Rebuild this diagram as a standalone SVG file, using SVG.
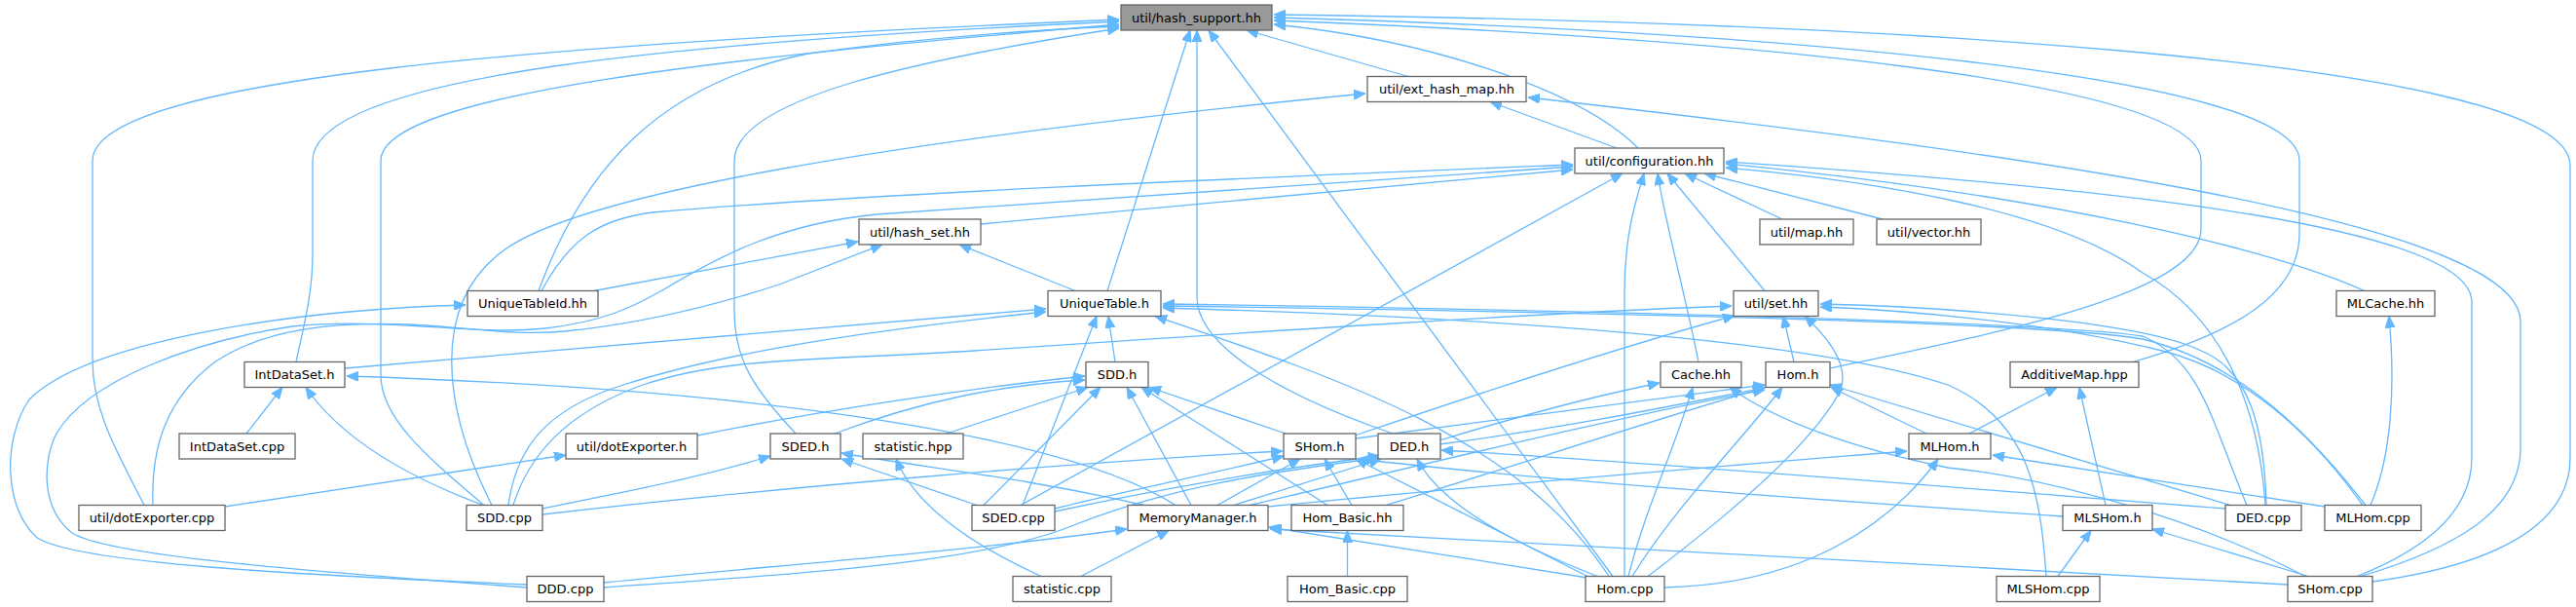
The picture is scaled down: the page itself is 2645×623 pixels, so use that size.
<svg xmlns="http://www.w3.org/2000/svg" width="2645" height="623" viewBox="0 0 2645 623">
<defs>
<style>
.n rect{fill:#ffffff;stroke:#666666;stroke-width:1.3}
.n.root rect{fill:#999999}
.n text{font-family:"DejaVu Sans","Liberation Sans",sans-serif;font-size:13px;text-anchor:middle;fill:#000000}
.e path{fill:none;stroke:#63b8ff;stroke-width:1.3;marker-end:url(#a)}
</style>
<marker id="a" viewBox="0 0 12 10" refX="12" refY="5" markerWidth="12" markerHeight="10" markerUnits="userSpaceOnUse" orient="auto"><path d="M0,0 L12,5 L0,10 z" fill="#63b8ff" stroke="#63b8ff"/></marker>
</defs>
<rect width="2645" height="623" fill="#ffffff"/>
<g id="edges" class="e">
<path d="M148,518.5 C118,460 95,420 95,370 L95,165 C95,80 560,45 1149,20"/>
<path d="M304,371.5 C313,330 321,300 321,260 L321,165 C321,75 720,42 1149,22"/>
<path d="M497,518.5 C440,470 391,430 391,385 L391,165 C391,95 760,58 1149,25"/>
<path d="M553,298.5 C600,170 680,85 830,55 C950,38 1080,30 1149,27"/>
<path d="M817,445 C775,400 754,370 754,320 L754,165 C754,100 950,60 1149,29"/>
<path d="M1137,298.5 L1222,31"/>
<path d="M1430,445 C1300,400 1229,350 1229,305 L1229,31"/>
<path d="M1656,591.5 L1241,31"/>
<path d="M1446,78.5 L1280,31"/>
<path d="M1682,152 C1620,90 1460,40 1308,25"/>
<path d="M2436,597 C2560,580 2639,540 2639,470 L2639,170 C2639,55 1850,22 1308,15"/>
<path d="M1879,378 C2060,340 2260,300 2260,235 L2260,165 C2260,80 1750,38 1308,21"/>
<path d="M2190,371.5 C2300,340 2361,300 2361,240 L2361,165 C2361,75 1800,32 1308,18"/>
<path d="M1660,152 L1530,104.5"/>
<path d="M505,518.5 C455,420 440,310 520,255 C600,200 900,145 1402,96"/>
<path d="M2424,591.5 C2530,560 2588,520 2588,460 L2588,330 C2588,230 2100,160 1569,100"/>
<path d="M556,298.5 C585,245 615,225 670,218 C900,198 1300,182 1615,169"/>
<path d="M1007,230 L1615,174"/>
<path d="M541,603 C300,585 110,570 74,547 C40,520 45,470 58,445 C90,390 200,350 300,335 C400,325 480,345 560,337 C620,330 650,315 680,298 C740,262 800,230 900,220 L1615,171"/>
<path d="M1048,518.5 L1666,178"/>
<path d="M1668,591.5 L1668,300 C1668,240 1680,205 1688,178"/>
<path d="M1744,371.5 C1730,300 1710,230 1702,178"/>
<path d="M1812,298.5 L1712,178"/>
<path d="M1830,225 L1730,178"/>
<path d="M1933,225 L1750,178"/>
<path d="M2428,298.5 C2330,255 2100,200 1772,168"/>
<path d="M2420,591.5 C2500,560 2538,520 2538,470 L2538,310 C2538,235 2200,195 1772,166"/>
<path d="M2326,518.5 C2320,430 2290,330 2200,280 C2110,215 1920,185 1772,172"/>
<path d="M610,298.5 L881,248"/>
<path d="M157,518.5 C155,460 170,410 220,372 C270,338 340,330 420,333 C480,336 530,345 580,340 C650,333 720,318 800,292 L906,251"/>
<path d="M1104,298.5 L985,251"/>
<path d="M541,600 C300,590 80,578 38,552 C3,520 3,450 30,410 C90,350 300,318 478,313"/>
<path d="M1145,371.5 L1138,324.5"/>
<path d="M1050,518.5 L1126,324.5"/>
<path d="M354,378 L1074,317"/>
<path d="M522,518.5 C530,460 560,420 640,395 C750,360 900,338 1074,320"/>
<path d="M1652,591.5 C1560,450 1380,390 1186,324.5"/>
<path d="M2307,518.5 C2270,430 2260,370 2200,345 C2100,330 1600,318 1194,312"/>
<path d="M2429,518.5 C2360,430 2290,370 2200,348 C2100,330 1600,320 1194,314"/>
<path d="M2101,591.5 C2095,500 2080,430 2000,395 C1850,345 1500,325 1194,316"/>
<path d="M1842,371.5 L1831,324.5"/>
<path d="M1692,591.5 C1760,540 1860,460 1890,400 C1900,370 1870,340 1853,324.5"/>
<path d="M2327,518.5 C2325,440 2310,380 2260,360 C2200,330 2000,315 1869,312"/>
<path d="M2426,518.5 C2370,440 2300,380 2220,360 C2100,330 1950,318 1869,315"/>
<path d="M1391,447 C1500,410 1650,360 1781,324"/>
<path d="M527,518.5 C545,460 590,420 660,395 C750,365 850,370 1000,360 C1300,340 1600,320 1778,314"/>
<path d="M620,598 C800,580 1000,565 1157,543"/>
<path d="M620,603 C800,590 1000,580 1100,540 C1200,500 1300,485 1416,470"/>
<path d="M253,445 L290,397.5"/>
<path d="M496,518.5 C420,490 350,450 314,397.5"/>
<path d="M1207,518.5 C1100,450 800,400 356,386"/>
<path d="M557,522 C640,505 720,490 791,468"/>
<path d="M1003,518.5 L864,471"/>
<path d="M1175,518.5 C1050,490 950,480 864,465"/>
<path d="M231,520 L581,467"/>
<path d="M1069,591.5 C1000,560 940,520 920,471"/>
<path d="M1110,591.5 L1200,544.5"/>
<path d="M972,445 L1117,397.5"/>
<path d="M857,445 C950,410 1030,395 1114,390"/>
<path d="M716,447 C850,420 1000,398 1114,386"/>
<path d="M1010,518.5 L1130,397.5"/>
<path d="M1223,518.5 L1157,397.5"/>
<path d="M1363,518.5 L1172,397.5"/>
<path d="M1320,445 L1180,397.5"/>
<path d="M557,528 C800,500 1100,475 1317,463"/>
<path d="M1083,522 C1150,505 1250,485 1318,468"/>
<path d="M1250,518.5 L1335,471"/>
<path d="M1388,518.5 L1360,471"/>
<path d="M2118,530 C1900,515 1600,495 1394,471"/>
<path d="M2367,591.5 C2250,530 2100,490 2000,480 C1900,460 1820,430 1776,397.5"/>
<path d="M1083,525 C1200,500 1320,480 1417,468"/>
<path d="M1267,518.5 L1418,471"/>
<path d="M1640,591.5 C1560,560 1480,520 1455,471"/>
<path d="M2285,522 C2000,500 1700,475 1480,462"/>
<path d="M1478,452 C1550,430 1620,410 1704,393"/>
<path d="M1478,456 C1600,440 1700,420 1812,398"/>
<path d="M1392,450 C1550,430 1700,410 1812,395"/>
<path d="M1283,518.5 C1450,480 1650,430 1812,400"/>
<path d="M1423,518.5 C1550,480 1700,430 1813,397.5"/>
<path d="M1676,591.5 C1720,520 1790,450 1830,397.5"/>
<path d="M1978,445 L1880,397.5"/>
<path d="M2290,518.5 L1879,395"/>
<path d="M1672,591.5 C1690,520 1720,460 1738,397.5"/>
<path d="M1709,603 C1850,600 1940,540 1990,471"/>
<path d="M2387,520 L2046,467"/>
<path d="M1302,520 C1500,500 1750,480 1958,463"/>
<path d="M2434,518.5 C2455,470 2460,400 2453,324.5"/>
<path d="M2022,445 L2112,397.5"/>
<path d="M2162,518.5 L2135,397.5"/>
<path d="M2113,591.5 L2147,544.5"/>
<path d="M2370,591.5 L2210,543"/>
<path d="M2349,600 C2000,580 1600,560 1304,543"/>
<path d="M1630,593 L1303,541"/>
<path d="M1383.5,591.5 L1383.5,544.5"/>
<path d="M1630,591.5 L1392,471"/>
</g>
<g id="hash_support" class="n root"><rect x="1151" y="5" width="155" height="26"/><text x="1228.5" y="22.5">util/hash_support.hh</text></g>
<g id="ext_hash_map" class="n"><rect x="1404" y="78.5" width="163" height="26"/><text x="1485.5" y="96">util/ext_hash_map.hh</text></g>
<g id="configuration" class="n"><rect x="1617" y="152" width="153" height="26"/><text x="1693.5" y="169.5">util/configuration.hh</text></g>
<g id="hash_set" class="n"><rect x="882" y="225" width="125" height="26"/><text x="944.5" y="242.5">util/hash_set.hh</text></g>
<g id="map" class="n"><rect x="1807" y="225" width="96" height="26"/><text x="1855" y="242.5">util/map.hh</text></g>
<g id="vector" class="n"><rect x="1927" y="225" width="107" height="26"/><text x="1980.5" y="242.5">util/vector.hh</text></g>
<g id="UniqueTableId" class="n"><rect x="480" y="298.5" width="134" height="26"/><text x="547" y="316">UniqueTableId.hh</text></g>
<g id="UniqueTable" class="n"><rect x="1076" y="298.5" width="116" height="26"/><text x="1134" y="316">UniqueTable.h</text></g>
<g id="set" class="n"><rect x="1780" y="298.5" width="87" height="26"/><text x="1823.5" y="316">util/set.hh</text></g>
<g id="MLCache" class="n"><rect x="2399" y="298.5" width="101" height="26"/><text x="2449.5" y="316">MLCache.hh</text></g>
<g id="IntDataSet_h" class="n"><rect x="251" y="371.5" width="103" height="26"/><text x="302.5" y="389">IntDataSet.h</text></g>
<g id="SDD_h" class="n"><rect x="1115" y="371.5" width="64" height="26"/><text x="1147" y="389">SDD.h</text></g>
<g id="Cache" class="n"><rect x="1705" y="371.5" width="83" height="26"/><text x="1746.5" y="389">Cache.hh</text></g>
<g id="Hom_h" class="n"><rect x="1813" y="371.5" width="66" height="26"/><text x="1846" y="389">Hom.h</text></g>
<g id="AdditiveMap" class="n"><rect x="2064" y="371.5" width="132" height="26"/><text x="2130" y="389">AdditiveMap.hpp</text></g>
<g id="IntDataSet_cpp" class="n"><rect x="184" y="445" width="119" height="26"/><text x="243.5" y="462.5">IntDataSet.cpp</text></g>
<g id="dotExporter_h" class="n"><rect x="581" y="445" width="135" height="26"/><text x="648.5" y="462.5">util/dotExporter.h</text></g>
<g id="SDED_h" class="n"><rect x="791" y="445" width="72" height="26"/><text x="827" y="462.5">SDED.h</text></g>
<g id="statistic_hpp" class="n"><rect x="886" y="445" width="103" height="26"/><text x="937.5" y="462.5">statistic.hpp</text></g>
<g id="SHom_h" class="n"><rect x="1318" y="445" width="74" height="26"/><text x="1355" y="462.5">SHom.h</text></g>
<g id="DED_h" class="n"><rect x="1415" y="445" width="64" height="26"/><text x="1447" y="462.5">DED.h</text></g>
<g id="MLHom_h" class="n"><rect x="1960" y="445" width="84" height="26"/><text x="2002" y="462.5">MLHom.h</text></g>
<g id="dotExporter_cpp" class="n"><rect x="81" y="518.5" width="150" height="26"/><text x="156" y="536">util/dotExporter.cpp</text></g>
<g id="SDD_cpp" class="n"><rect x="479" y="518.5" width="78" height="26"/><text x="518" y="536">SDD.cpp</text></g>
<g id="SDED_cpp" class="n"><rect x="998" y="518.5" width="85" height="26"/><text x="1040.5" y="536">SDED.cpp</text></g>
<g id="MemoryManager" class="n"><rect x="1158" y="518.5" width="144" height="26"/><text x="1230" y="536">MemoryManager.h</text></g>
<g id="Hom_Basic_hh" class="n"><rect x="1326" y="518.5" width="115" height="26"/><text x="1383.5" y="536">Hom_Basic.hh</text></g>
<g id="MLSHom_h" class="n"><rect x="2118" y="518.5" width="92" height="26"/><text x="2164" y="536">MLSHom.h</text></g>
<g id="DED_cpp" class="n"><rect x="2285" y="518.5" width="78" height="26"/><text x="2324" y="536">DED.cpp</text></g>
<g id="MLHom_cpp" class="n"><rect x="2387" y="518.5" width="99" height="26"/><text x="2436.5" y="536">MLHom.cpp</text></g>
<g id="DDD_cpp" class="n"><rect x="541" y="591.5" width="79" height="26"/><text x="580.5" y="609">DDD.cpp</text></g>
<g id="statistic_cpp" class="n"><rect x="1040" y="591.5" width="101" height="26"/><text x="1090.5" y="609">statistic.cpp</text></g>
<g id="Hom_Basic_cpp" class="n"><rect x="1322" y="591.5" width="123" height="26"/><text x="1383.5" y="609">Hom_Basic.cpp</text></g>
<g id="Hom_cpp" class="n"><rect x="1628" y="591.5" width="81" height="26"/><text x="1668.5" y="609">Hom.cpp</text></g>
<g id="MLSHom_cpp" class="n"><rect x="2050" y="591.5" width="106" height="26"/><text x="2103" y="609">MLSHom.cpp</text></g>
<g id="SHom_cpp" class="n"><rect x="2349" y="591.5" width="87" height="26"/><text x="2392.5" y="609">SHom.cpp</text></g>
</svg>
